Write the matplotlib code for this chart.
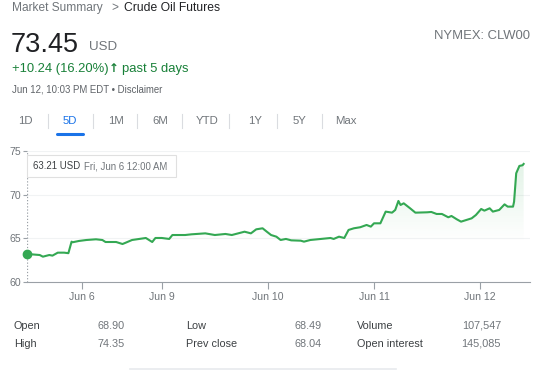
import matplotlib
matplotlib.use("Agg")
import matplotlib.pyplot as plt
import numpy as np
from matplotlib.patches import Rectangle
from matplotlib.lines import Line2D
from matplotlib.colors import LinearSegmentedColormap

plt.rcParams['font.family'] = ['Liberation Sans', 'DejaVu Sans']

# session position (trading-day units) and price in USD
days = [-0.27, -0.15, -0.12, -0.06, -0.03, 0.02, 0.08, 0.12, 0.15, 0.16, 0.22, 0.29,
        0.38, 0.44, 0.47, 0.57, 0.63, 0.66, 0.72, 0.85, 0.91, 0.94, 1.00, 1.07,
        1.10, 1.22, 1.28, 1.41, 1.50, 1.60, 1.66, 1.72, 1.78, 1.84, 1.89, 1.95,
        1.99, 2.03, 2.08, 2.12, 2.17, 2.22, 2.31, 2.34, 2.40, 2.50, 2.59, 2.62,
        2.67, 2.72, 2.76, 2.81, 2.87, 2.93, 2.97, 3.00, 3.06, 3.11, 3.17, 3.20,
        3.23, 3.25, 3.28, 3.34, 3.39, 3.50, 3.54, 3.59, 3.64, 3.70, 3.73, 3.78,
        3.82, 3.87, 3.92, 3.96, 4.01, 4.04, 4.09, 4.12, 4.18, 4.23, 4.26, 4.31,
        4.32, 4.34, 4.37, 4.40, 4.41]
prices = [63.21, 63.09, 62.90, 63.09, 63.02, 63.36, 63.36, 63.30, 64.62, 64.55, 64.70, 64.81,
          64.89, 64.81, 64.58, 64.58, 64.35, 64.50, 64.81, 65.04, 64.58, 65.04, 65.04, 64.93,
          65.38, 65.38, 65.46, 65.57, 65.38, 65.50, 65.38, 65.57, 65.76, 65.57, 66.03, 66.15,
          65.76, 65.38, 65.19, 64.81, 64.93, 64.77, 64.73, 64.62, 64.81, 64.93, 65.04, 64.93,
          65.19, 65.04, 65.96, 66.15, 66.27, 66.53, 66.34, 66.72, 66.72, 68.06, 67.94, 68.25,
          69.28, 68.82, 69.01, 68.44, 67.94, 67.98, 68.02, 67.79, 67.79, 67.41, 67.56, 67.18,
          66.91, 67.10, 67.29, 67.67, 68.36, 68.17, 68.44, 68.06, 68.25, 68.89, 68.63, 68.63,
          69.20, 72.45, 73.29, 73.37, 73.52]

tick_pos = [0.25, 1.0, 2.0, 3.0, 4.0]
tick_labels = ["Jun 6", "Jun 9", "Jun 10", "Jun 11", "Jun 12"]
y_ticks = [60, 65, 70, 75]

tabs = ["1D", "5D", "1M", "6M", "YTD", "1Y", "5Y", "Max"]
tab_x = [25, 70, 116, 160, 207, 255, 300, 346]
sep_x = [48, 93, 137, 182, 229, 277, 322]

stats_labels = [["Open", "High"], ["Low", "Prev close"], ["Volume", "Open interest"]]
stats_values = [["68.90", "74.35"], ["68.49", "68.04"], ["107,547", "145,085"]]

W, H = 540, 370
GREEN_LINE = "#34a853"
GREEN_TXT = "#188038"
GREY = "#70757a"
DARK = "#202124"

fig = plt.figure(figsize=(W / 100, H / 100), dpi=100)

def px(x, y):
    return x / W, 1 - y / H

# ---- header ----
fig.text(*px(12, 8), "Market Summary", fontsize=8.6, color=GREY, va="center")
fig.text(*px(111, 8), ">", fontsize=8.6, color=GREY, va="center")
fig.text(*px(124, 8), "Crude Oil Futures", fontsize=8.7, color=DARK, va="center")
fig.text(*px(11, 45), "73.45", fontsize=19.5, color=DARK, va="center")
fig.text(*px(89, 47), "USD", fontsize=9.6, color=GREY, va="center")
fig.text(*px(530, 36), "NYMEX: CLW00", fontsize=9.4, color=GREY, va="center", ha="right")
fig.text(*px(12, 69), "+10.24 (16.20%)", fontsize=9.4, color=GREEN_TXT, va="center")
fig.text(*px(109, 69), "\u2191", fontsize=8.5, color=GREEN_TXT, va="center",
         fontweight="bold", family="DejaVu Sans")
fig.text(*px(122, 69), "past 5 days", fontsize=9.4, color=GREEN_TXT, va="center")
fig.text(*px(12, 90), "Jun 12, 10:03 PM EDT \u2022 Disclaimer", fontsize=6.9, color="#5f6368", va="center")

for t, x in zip(tabs, tab_x):
    fig.text(*px(x, 121), t, fontsize=8.2, ha="center", va="center",
             color="#1a73e8" if t == "5D" else GREY)
for x in sep_x:
    fig.add_artist(Line2D([x / W, x / W], [1 - 114 / H, 1 - 128 / H], color="#dadce0", lw=0.8))
fig.add_artist(Line2D([57 / W, 83 / W], [1 - 134 / H, 1 - 134 / H], color="#1a73e8", lw=2.2,
                      solid_capstyle="round"))

# ---- chart ----
ax = fig.add_axes([27 / W, 1 - 282 / H, (530 - 27) / W, (282 - 151) / H])
ax.set_xlim(days[0], 4.47)
ax.set_ylim(60, 75)

for y in y_ticks[1:]:
    ax.axhline(y, color="#f1f3f4", lw=0.8, zorder=0)

# gradient fill under the line
cmap = LinearSegmentedColormap.from_list("g", [(0.2, 0.66, 0.33, 0.0), (0.2, 0.66, 0.33, 0.16)])
grad = np.linspace(0, 1, 200).reshape(-1, 1)
grad = np.clip((grad - 0.3) / 0.7, 0, 1)
im = ax.imshow(grad, extent=[days[0], days[-1], 60, 75], origin="lower", aspect="auto",
               cmap=cmap, vmin=0, vmax=1, zorder=1)
poly = ax.fill_between(days, prices, 60, color="none", lw=0)
im.set_clip_path(poly.get_paths()[0], transform=ax.transData)

ax.plot(days, prices, color=GREEN_LINE, lw=1.5, zorder=3, solid_joinstyle="round")
ax.plot([days[0]], [prices[0]], "o", color=GREEN_LINE, ms=6, zorder=4, clip_on=False)
ax.axvline(days[0], color="#9aa0a6", lw=0.9, ls=(0, (1, 1.5)), zorder=2)

for s in ["top", "right", "left"]:
    ax.spines[s].set_visible(False)
ax.spines["bottom"].set_color("#9aa0a6")
ax.spines["bottom"].set_linewidth(0.8)

ax.set_xticks(tick_pos)
ax.set_xticklabels(tick_labels)
ax.set_yticks(y_ticks)
ax.tick_params(axis="x", colors="#9aa0a6", labelcolor=GREY, length=5, width=0.8, labelsize=7.6, pad=2)
ax.tick_params(axis="y", colors="#9aa0a6", labelcolor=GREY, length=3, width=0.8, labelsize=7.6, pad=1)

# tooltip
fig.add_artist(Rectangle((26.5 / W, 1 - 177 / H), 149 / W, 22 / H, facecolor="white",
                         edgecolor="#e0e0e0", lw=0.8, zorder=5))
fig.text(*px(33, 166), "63.21 USD", fontsize=6.9, color="#3c4043", va="center", zorder=6)
fig.text(*px(84, 166), "Fri, Jun 6 12:00 AM", fontsize=6.9, color=GREY, va="center", zorder=6)

# ---- stats table ----
col_label_x = [14, 186, 357]
col_value_x = [125, 322, 501]
for c in range(3):
    for r, y in enumerate([329, 347]):
        fig.text(*px(col_label_x[c], y), stats_labels[c][r], fontsize=7.8, color="#3c4043", va="baseline")
        fig.text(*px(col_value_x[c], y), stats_values[c][r], fontsize=7.8, color=GREY,
                 va="baseline", ha="right")

fig.add_artist(Line2D([130 / W, 396 / W], [1 - 368.5 / H, 1 - 368.5 / H], color="#e8eaed", lw=1.2))

fig.savefig("out.png", dpi=100, facecolor="white")
